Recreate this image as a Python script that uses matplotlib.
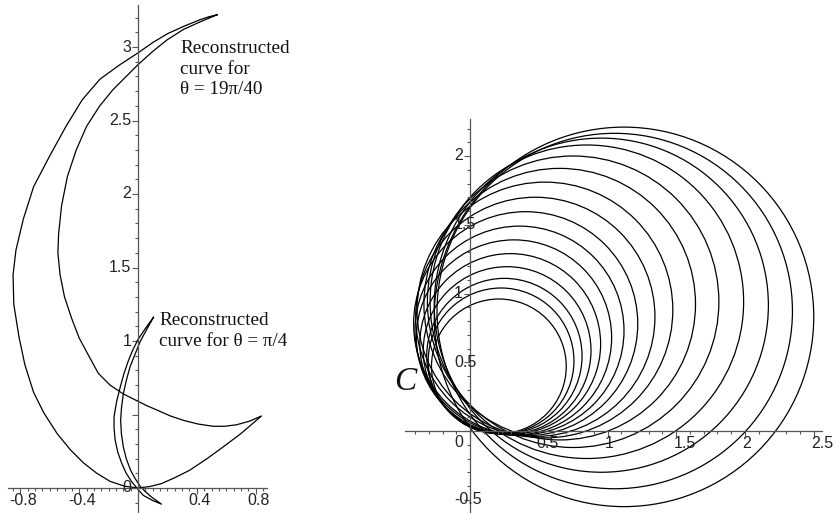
import numpy as np
import matplotlib
matplotlib.use("Agg")
import matplotlib.pyplot as plt
from matplotlib.patches import Circle
from matplotlib.ticker import FixedLocator

# ---- left panel: reconstructed curves ----
big_x = [0.54, 0.48, 0.42, 0.31, 0.20, 0.10, 0.0, -0.13, -0.26, -0.38, -0.49, -0.60,
         -0.71, -0.78, -0.83, -0.85, -0.845, -0.81, -0.77, -0.71, -0.64, -0.55, -0.46,
         -0.37, -0.28, -0.19, -0.09, 0.0,
         0.08, 0.16, 0.25, 0.35, 0.47, 0.58, 0.70, 0.77, 0.84,
         0.76, 0.67, 0.59, 0.51, 0.41, 0.31, 0.22, 0.13, 0.06, 0.0, -0.10, -0.19,
         -0.27, -0.33, -0.40, -0.45, -0.50, -0.53, -0.545, -0.54, -0.52, -0.48,
         -0.42, -0.35, -0.26, -0.17, -0.08, 0.0, 0.10, 0.20, 0.31, 0.42, 0.54]
big_y = [3.22, 3.205, 3.185, 3.14, 3.09, 3.03, 2.96, 2.875, 2.78, 2.64, 2.46, 2.26,
         2.05, 1.83, 1.62, 1.45, 1.25, 1.03, 0.84, 0.65, 0.51, 0.37, 0.26,
         0.17, 0.10, 0.045, 0.012, 0.0,
         0.01, 0.03, 0.07, 0.12, 0.20, 0.28, 0.37, 0.43, 0.49,
         0.455, 0.43, 0.42, 0.42, 0.435, 0.46, 0.49, 0.53, 0.56, 0.59, 0.64, 0.70,
         0.78, 0.89, 1.02, 1.15, 1.30, 1.45, 1.60, 1.73, 1.92, 2.12,
         2.30, 2.46, 2.60, 2.71, 2.80, 2.88, 2.97, 3.05, 3.12, 3.17, 3.22]

small_x = [0.105, 0.05, 0.0, -0.035, -0.064, -0.095, -0.12, -0.145, -0.163, -0.163,
           -0.156, -0.138, -0.11, -0.08, -0.043, 0.0, 0.036, 0.10, 0.16,
           0.09, 0.045, 0.016, -0.02, -0.05, -0.08, -0.10, -0.113, -0.118, -0.112,
           -0.10, -0.08, -0.054, -0.02, 0.014, 0.06, 0.105]
small_y = [1.161, 1.085, 1.01, 0.94, 0.87, 0.78, 0.69, 0.59, 0.485, 0.41,
           0.33, 0.245, 0.166, 0.10, 0.043, -0.01, -0.05, -0.085, -0.11,
           -0.06, -0.02, 0.01, 0.065, 0.12, 0.20, 0.28, 0.37, 0.46, 0.55,
           0.64, 0.73, 0.825, 0.91, 0.995, 1.08, 1.161]

left_yticks = [1, 1.5, 2, 2.5, 3]
left_ylabels = ["1", "1.5", "2", "2.5", "3"]
left_xticks = [-0.8, -0.4, 0.4, 0.8]
left_xlabels = ["-0.8", "-0.4", "0.4", "0.8"]

# ---- right panel: family of circles and the curve C ----
circle_cx = [0.21, 0.226, 0.25, 0.27, 0.2925, 0.32, 0.36, 0.405,
             0.475, 0.545, 0.6525, 0.75, 0.85, 0.955, 1.0525, 1.12]
circle_cy = [0.47, 0.51, 0.545, 0.585, 0.6325, 0.68, 0.73, 0.78,
             0.83, 0.88, 0.9225, 0.94, 0.94, 0.915, 0.8725, 0.83]
circle_r = [0.49, 0.53, 0.565, 0.61, 0.6575, 0.71, 0.76, 0.815,
            0.87, 0.93, 0.9875, 1.06, 1.14, 1.215, 1.2925, 1.38]

right_yticks = [-0.5, 0.5, 1, 1.5, 2]
right_ylabels = ["-0.5", "0.5", "1", "1.5", "2"]
right_xticks = [0.5, 1, 1.5, 2, 2.5]
right_xlabels = ["0.5", "1", "1.5", "2", "2.5"]

W, H = 836, 513
AXC = "#555555"
TICKFONT = dict(family="Liberation Sans", size=11.5, color="#222222")
SERIF = "Liberation Serif"

fig = plt.figure(figsize=(W / 100, H / 100), dpi=100)


def make_axes(px_left, px_width, x0_px, y0_px, unit):
    ax = fig.add_axes([px_left / W, 0, px_width / W, 1])
    ax.set_xlim((px_left - x0_px) / unit, (px_left + px_width - x0_px) / unit)
    ax.set_ylim((y0_px - H) / unit, y0_px / unit)
    ax.patch.set_alpha(0)
    for s in ("top", "right"):
        ax.spines[s].set_visible(False)
    for s in ("left", "bottom"):
        ax.spines[s].set_position(("data", 0))
        ax.spines[s].set_color(AXC)
        ax.spines[s].set_linewidth(0.9)
    ax.tick_params(which="both", direction="out", color=AXC, width=0.8,
                   labelbottom=False, labelleft=False)
    ax.tick_params(which="major", length=4)
    ax.tick_params(which="minor", length=2.2)
    return ax


# left panel
axl = make_axes(0, 300, 138, 488, 147)
axl.spines["bottom"].set_bounds(-0.884, 0.878)
axl.spines["left"].set_bounds(-0.17, 3.286)
axl.xaxis.set_major_locator(FixedLocator(left_xticks))
axl.xaxis.set_minor_locator(FixedLocator(np.arange(-0.85, 0.86, 0.05)))
axl.yaxis.set_major_locator(FixedLocator(np.arange(0, 3.01, 0.5)))
axl.yaxis.set_minor_locator(FixedLocator(np.arange(-0.1, 3.25, 0.1)))

axl.plot(big_x, big_y, color="black", lw=0.9)
axl.plot(small_x, small_y, color="black", lw=0.9)

for t, lab in zip(left_yticks, left_ylabels):
    axl.text(-0.045, t, lab, ha="right", va="center", **TICKFONT)
axl.text(-0.045, 0, "0", ha="right", va="center", **TICKFONT)
for t, lab in zip(left_xticks, left_xlabels):
    axl.text(t + 0.02, -0.085, lab, ha="center", va="center", **TICKFONT)

axl.text(0.286, 3.05, "Reconstructed\ncurve for\n\u03b8 = 19\u03c0/40", ha="left", va="top",
         family=SERIF, size=13.8, linespacing=1.3, color="#111111")
axl.text(0.143, 1.2, "Reconstructed\ncurve for \u03b8 = \u03c0/4", ha="left", va="top",
         family=SERIF, size=13.8, linespacing=1.35, color="#111111")

# right panel
axr = make_axes(380, 456, 470, 431, 137.5)
axr.spines["bottom"].set_bounds(-0.47, 2.56)
axr.spines["left"].set_bounds(-0.6, 2.27)
axr.xaxis.set_major_locator(FixedLocator(np.arange(0, 2.51, 0.5)))
axr.xaxis.set_minor_locator(FixedLocator(np.arange(-0.4, 2.55, 0.1)))
axr.yaxis.set_major_locator(FixedLocator(np.arange(-0.5, 2.01, 0.5)))
axr.yaxis.set_minor_locator(FixedLocator(np.arange(-0.5, 2.25, 0.1)))

for cx, cy, r in zip(circle_cx, circle_cy, circle_r):
    axr.add_patch(Circle((cx, cy), r, fill=False, ec="black", lw=0.9))

for t, lab in zip(right_yticks, right_ylabels):
    axr.text(-0.115, t, lab, ha="left", va="center", **TICKFONT)
axr.text(-0.115, -0.085, "0", ha="left", va="center", **TICKFONT)
for t, lab in zip(right_xticks, right_xlabels):
    axr.text(t - 0.02, -0.09, lab, ha="left", va="center", **TICKFONT)

axr.text(-0.473, 0.355, "C", ha="center", va="center", family=SERIF,
         style="italic", size=24, color="#111111")

fig.savefig("out.png", dpi=100)
